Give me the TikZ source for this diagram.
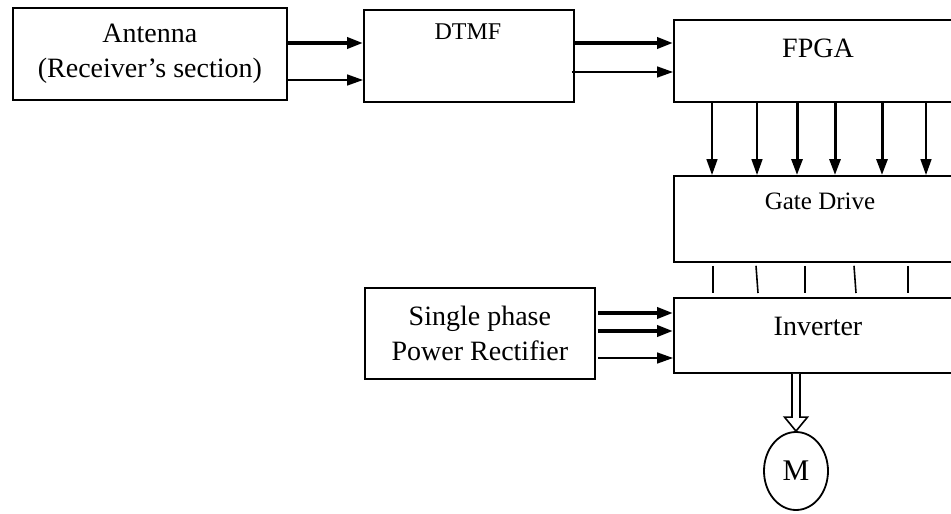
\documentclass[tikz,border=0pt]{standalone}
\usepackage{fontspec}
\setmainfont{Liberation Serif}
\usetikzlibrary{calc, shapes.geometric, arrows.meta, positioning}
\tikzset{
    block/.style = {rectangle, draw, line width=1.8pt, anchor=north west, inner sep=0pt, font=\fontsize{28}{35}\selectfont, align=center},
    block title/.style = {inner sep=0pt, font=\fontsize{28}{35}\selectfont},
    thin link/.style = {line width=1.6pt, -{Triangle[length=16pt, width=11pt]}},
    thick link/.style = {line width=3.6pt, -{Triangle[length=16pt, width=11pt]}},
    down link/.style = {-{Triangle[length=16pt, width=11pt]}},
    gate link/.style = {line width=1.6pt},
    motor/.style = {ellipse, draw, line width=1.8pt, inner sep=0pt, minimum width=64pt, minimum height=78pt, font=\fontsize{30}{35}\selectfont}
}
\begin{document}
\begin{tikzpicture}[x=1pt, y=-1pt]
    \useasboundingbox (0,0) rectangle (951,514);
    \clip (0,0) rectangle (951,514);
    % blocks
    \node[block, minimum width=274pt, minimum height=92pt] (ant) at (12,7) {Antenna\\(Receiver’s section)};
    \node[block, minimum width=210pt, minimum height=92pt] (dtmf) at (363,9) {};
    \node[block title, font=\fontsize{24}{30}\selectfont] (dtmftitle) at ($(dtmf.north west)+(105,23)$) {DTMF};
    \node[block, minimum width=400pt, minimum height=82pt] (fpga) at (673,19) {};
    \node[block title] (fpgatitle) at ($(fpga.north west)+(145,29)$) {FPGA};
    \node[block, minimum width=400pt, minimum height=86pt] (gate) at (673,175) {};
    \node[block title, font=\fontsize{25}{30}\selectfont] (gatetitle) at ($(gate.north west)+(147,26)$) {Gate Drive};
    \node[block, minimum width=400pt, minimum height=75pt] (inv) at (673,297) {};
    \node[block title] (invtitle) at ($(inv.north west)+(145,29)$) {Inverter};
    \node[block, minimum width=230pt, minimum height=91pt] (rect) at (364,287) {Single phase\\Power Rectifier};
    \node[motor] (mot) at (796,471) {M};

    % signal links
    \draw[thick link] ($(ant.north east)+(0,36)$) -- ($(dtmf.north west)+(0,34)$);
    \draw[thin link] ($(ant.north east)+(0,73)$) -- ($(dtmf.north west)+(0,71)$);
    \draw[thick link] ($(dtmf.north east)+(0,34)$) -- ($(fpga.north west)+(0,24)$);
    \draw[thin link] ($(dtmf.north east)+(-3,63)$) -- ($(fpga.north west)+(0,53)$);
    \foreach \dx/\lw in {39/1.6, 84/1.6, 124/3, 162/3, 209/3, 253/1.6}
        \draw[down link, line width=\lw pt] ($(fpga.south west)+(\dx,0)$) -- ($(gate.north west)+(\dx,0)$);
    \foreach \xa/\xb in {40/40, 83/85, 132/132, 181/183, 235/235}
        \draw[gate link] ($(gate.south west)+(\xa,3)$) -- ($(inv.north west)+(\xb,-4)$);

    % power links
    \draw[thick link] ($(rect.north east)+(2,26)$) -- ($(inv.north west)+(0,16)$);
    \draw[thick link] ($(rect.north east)+(2,44)$) -- ($(inv.north west)+(0,34)$);
    \draw[thin link] ($(rect.north east)+(2,71)$) -- ($(inv.north west)+(0,61)$);

    % hollow arrow to motor
    \coordinate (shaft) at (inv.south -| mot.north);
    \draw[line width=1.6pt, fill=white] ($(shaft)+(-4,0)$) -- ($(mot.north)+(-4,-14)$) -- ($(mot.north)+(-11.5,-14)$) -- (mot.north)
        -- ($(mot.north)+(11.5,-14)$) -- ($(mot.north)+(4,-14)$) -- ($(shaft)+(4,0)$);
\end{tikzpicture}
\end{document}
